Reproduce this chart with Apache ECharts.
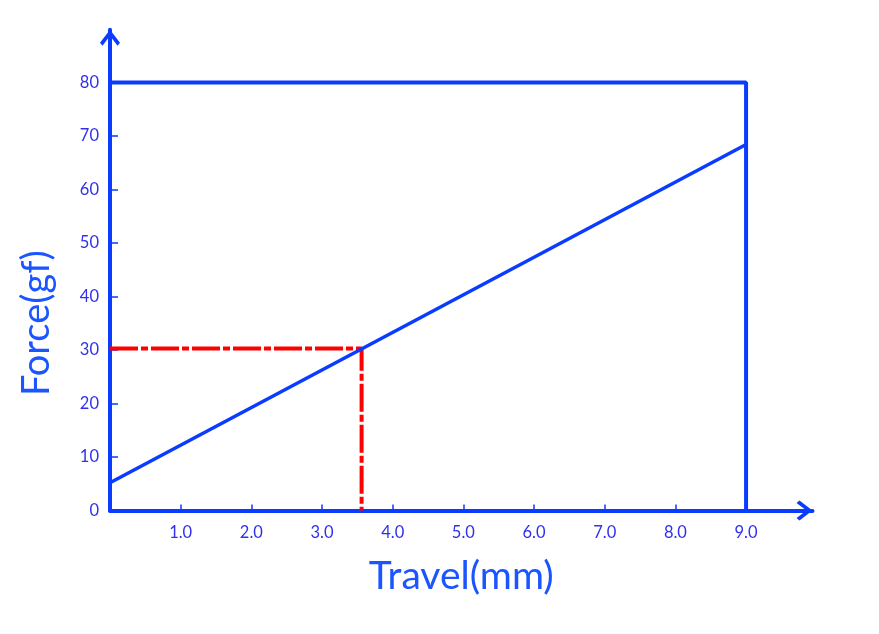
<!DOCTYPE html>
<html><head><meta charset="utf-8">
<script src="https://cdn.jsdelivr.net/npm/echarts@6/dist/echarts.min.js"></script>
<style>html,body{margin:0;padding:0;background:#fff}#c{width:879px;height:634px}</style>
</head><body><div id="c"></div>
<script>
// Data
const xTicks = [1, 2, 3, 4, 5, 6, 7, 8, 9];
const yTicks = [0, 10, 20, 30, 40, 50, 60, 70, 80];
const forceLine = [[0, 5.2], [9, 68.4]];
const markerPath = [[0, 30.3], [3.56, 30.3], [3.56, 0]];
const frame = [[0, 80], [9, 80], [9, 0]];
const xAxisEnd = 9.94;
const yAxisEnd = 89.85;

const BLUE = '#0a3cff';
const LABEL = '#3030ee';
const NAME = '#1a55ff';
const chevron = 'path://M0,13 L10,0 L20,13 L17.5,16 L10,6 L2.5,16 Z';

const chart = echarts.init(document.getElementById('c'), null, {renderer: 'canvas'});
chart.setOption({
  animation: false,
  backgroundColor: '#ffffff',
  grid: {left: 110, right: 66.5, top: 29.8, bottom: 123.5, outerBoundsMode: 'none'},
  xAxis: {
    type: 'value', min: 0, max: xAxisEnd,
    axisLine: {show: true, onZero: false, symbol: ['none', chevron], symbolSize: [20, 16], symbolOffset: [0, -8],
      lineStyle: {color: BLUE, width: 4}},
    axisTick: {show: true, inside: true, length: 6, customValues: xTicks, lineStyle: {color: BLUE, width: 1.5}},
    axisLabel: {customValues: xTicks, formatter: v => v.toFixed(1), color: LABEL, fontFamily: 'Lato', fontSize: 16.5, margin: 14},
    splitLine: {show: false},
    name: 'Travel(mm)', nameLocation: 'middle', nameGap: 46,
    nameTextStyle: {color: NAME, fontFamily: 'Lato', fontSize: 39}
  },
  yAxis: {
    type: 'value', min: 0, max: yAxisEnd,
    axisLine: {show: true, onZero: false, symbol: ['none', chevron], symbolSize: [20, 16], symbolOffset: [0, -8],
      lineStyle: {color: BLUE, width: 4}},
    axisTick: {show: true, inside: true, length: 8, customValues: yTicks, lineStyle: {color: BLUE, width: 1.5}},
    axisLabel: {customValues: yTicks, color: LABEL, fontFamily: 'Lato', fontSize: 16.5, margin: 11},
    splitLine: {show: false},
    name: 'Force(gf)', nameLocation: 'middle', nameGap: 54,
    nameTextStyle: {color: NAME, fontFamily: 'Lato', fontSize: 38, padding: [0, 106, 0, 0]}
  },
  series: [
    {type: 'line', data: frame, showSymbol: false, lineStyle: {color: BLUE, width: 4}, z: 3},
    {type: 'line', data: markerPath, showSymbol: false, lineStyle: {color: '#ff0000', width: 4, type: [28, 3, 7, 3]}, z: 3},
    {type: 'line', data: forceLine, showSymbol: false, lineStyle: {color: BLUE, width: 3.5}, z: 4}
  ]
});
</script></body></html>
